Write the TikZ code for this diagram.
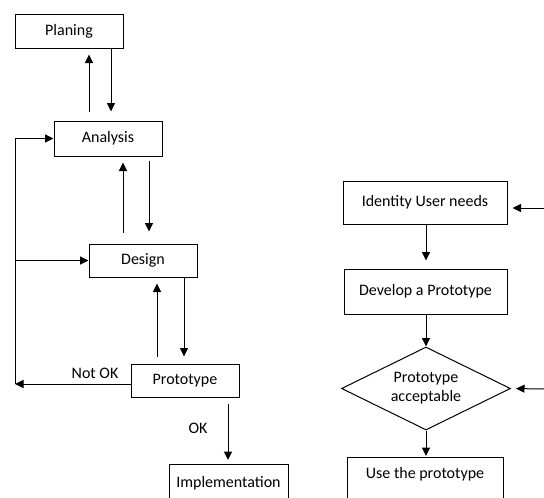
\documentclass[tikz,border=0pt]{standalone}
\usepackage{fontspec}
\setmainfont{Carlito}
\usetikzlibrary{shapes.geometric,arrows.meta}
\begin{document}
\begin{tikzpicture}[x=1pt,y=-1pt,
  box/.style={draw,line width=1pt,inner sep=0pt,align=center},
  arr/.style={line width=1pt,-{Triangle[length=8.5pt,width=8pt]}},
  lbl/.style={inner sep=0pt},
  font=\fontsize{16}{19}\selectfont]
\useasboundingbox (0,0) rectangle (544,498);
\clip (0,0) rectangle (544,498);
% left flow
\node[box,minimum width=108pt,minimum height=34pt] (plan) at (69,31) {Planing};
\node[box,minimum width=108pt,minimum height=35pt] (an) at (108,138.5) {Analysis};
\node[box,minimum width=108pt,minimum height=33pt] (des) at (143,260.5) {Design};
\node[box,minimum width=108pt,minimum height=33pt] (proto) at (185,380.5) {Prototype};
\node[box,anchor=north,minimum width=119pt,text height=23pt,text depth=40pt] (impl) at (228.5,464) {Implementation};
\node[lbl] (notok) at (95,373) {Not OK};
\node[lbl] (ok) at (198,428) {OK};
\draw[arr,shorten >=9pt] ([xshift=42pt]plan.south) -- ([xshift=42pt]plan.south |- an.north);
\draw[arr,shorten <=9pt,shorten >=6pt] ([xshift=-19pt]an.north) -- ([xshift=-19pt]an.north |- plan.south);
\draw[arr,shorten <=11pt,shorten >=6pt] ([xshift=-20pt]des.north) -- ([xshift=-20pt]des.north |- an.south);
\draw[arr,shorten <=4pt,shorten >=12pt] ([xshift=41pt]an.south) -- ([xshift=41pt]an.south |- des.north);
\draw[arr,shorten <=7pt,shorten >=6pt] ([xshift=-28pt]proto.north) -- ([xshift=-28pt]proto.north |- des.south);
\draw[arr,shorten >=7pt] ([xshift=41pt]des.south) -- ([xshift=41pt]des.south |- proto.north);
\draw[arr,shorten <=6pt,shorten >=4pt] ([xshift=43pt]proto.south) -- ([xshift=43pt]proto.south |- impl.north);
\coordinate (lb) at (15,384);
\draw[arr] (proto.west |- lb) -- (lb);
\draw[arr] (lb) -- (lb |- an.west) -- (an.west);
\draw[arr] (lb |- des.west) -- (des.west);
% right flow
\node[box,minimum width=164pt,minimum height=43pt] (id) at (425,202.5) {Identity User needs};
\node[box,minimum width=163pt,minimum height=45pt] (dev) at (425.5,291.5) {Develop a Prototype};
\node[draw,diamond,aspect=2.04,minimum width=169pt,minimum height=83pt,inner sep=0pt,align=center,line width=1pt] (acc) at (426,388.5) {Prototype\\acceptable};
\node[box,anchor=north,minimum width=156pt,text height=21pt,text depth=40pt] (use) at (425,457) {Use the prototype};
\draw[arr,shorten >=8pt] (acc.north |- id.south) -- (acc.north |- dev.north);
\draw[arr] (acc.north |- dev.south) -- (acc.north);
\draw[arr,shorten >=1pt] (acc.south) -- (acc.south |- use.north);
\coordinate (r1) at (544,208);
\coordinate (r2) at (544,389);
\draw[arr,shorten >=5pt] (r1) -- (r1 -| id.east);
\draw[arr,shorten >=5pt] (r2) -- (acc.east);
\end{tikzpicture}
\end{document}
